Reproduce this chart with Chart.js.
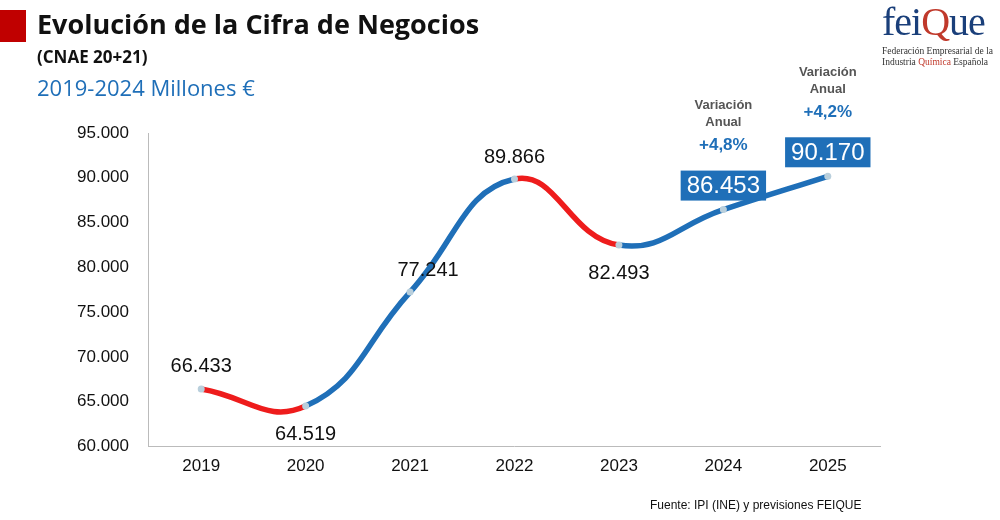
<!DOCTYPE html>
<html><head><meta charset="utf-8">
<script src="https://cdn.jsdelivr.net/npm/chart.js@4"></script>
<style>
body{margin:0;width:1000px;height:520px;background:#fff;position:relative;font-family:"Liberation Sans",Arial,sans-serif;overflow:hidden}
#wrap{position:absolute;left:0;top:0;width:1000px;height:520px}
.t{position:absolute;white-space:nowrap}
</style></head><body>
<div id="wrap"><canvas id="c"></canvas></div>
<div class="t" style="left:0;top:10px;width:26px;height:32px;background:#c00000"></div>
<div class="t" style="left:37px;top:5px;font:bold 27px 'Open Sans';color:#111">Evolución de la Cifra de Negocios</div>
<div class="t" style="left:37px;top:45px;font:bold 17px 'Open Sans';color:#111">(CNAE 20+21)</div>
<div class="t" style="left:37px;top:72px;font:22px 'Open Sans';color:#1f6fb8">2019-2024 Millones €</div>
<div class="t" style="left:882px;top:-2px;font:40px 'Liberation Serif';color:#1a3f7a;letter-spacing:-1px">fei<span style="color:#c0392b">Q</span>ue</div>
<div class="t" style="left:882px;top:46px;font:9.5px 'Liberation Serif';color:#333;line-height:11px">Federación Empresarial de la<br>Industria <span style="color:#c0392b">Química</span> Española</div>
<div class="t" style="left:650px;top:498px;font:12px 'Liberation Sans';color:#111">Fuente: IPI (INE) y previsiones FEIQUE</div>
<script>
const years = ['2019','2020','2021','2022','2023','2024','2025'];
const values = [66433, 64519, 77241, 89866, 82493, 86453, 90170];
const valueLabels = ['66.433','64.519','77.241','89.866','82.493','86.453','90.170'];
const variations = {5: '+4,8%', 6: '+4,2%'};
const RED = '#ee1c1c', BLUE = '#1f6fb8';

const labelPlugin = {
  id: 'labels',
  afterDatasetsDraw(chart) {
    const ctx = chart.ctx;
    const meta = chart.getDatasetMeta(0);
    ctx.save();
    ctx.textAlign = 'center';
    ctx.textBaseline = 'middle';
    meta.data.forEach((pt, i) => {
      const txt = valueLabels[i];
      if (i >= 5) {
        ctx.font = '24px "Liberation Sans"';
        const w = ctx.measureText(txt).width + 12;
        const cy = pt.y - 24;
        ctx.fillStyle = BLUE;
        ctx.fillRect(pt.x - w / 2, cy - 15, w, 30);
        ctx.fillStyle = '#fff';
        ctx.fillText(txt, pt.x, cy + 1);
        ctx.fillStyle = '#555';
        ctx.font = 'bold 13px "Liberation Sans"';
        ctx.fillText('Variación', pt.x, cy - 80);
        ctx.fillText('Anual', pt.x, cy - 63);
        ctx.fillStyle = BLUE;
        ctx.font = 'bold 17px "Liberation Sans"';
        ctx.fillText(variations[i], pt.x, cy - 40);
      } else {
        ctx.font = '20px "Liberation Sans"';
        ctx.fillStyle = '#111';
        const below = (i === 1 || i === 4);
        const dy = below ? 28 : -22;
        ctx.fillText(txt, pt.x + (i === 2 ? 18 : 0), pt.y + dy);
      }
    });
    ctx.restore();
  }
};

new Chart(document.getElementById('c'), {
  type: 'line',
  data: {
    labels: years,
    datasets: [{
      data: values,
      borderWidth: 5.5,
      tension: 0.45,
      pointRadius: 3.5,
      pointBackgroundColor: '#b9cfdc',
      pointBorderWidth: 0,
      segment: {
        borderColor: c => c.p1.parsed.y < c.p0.parsed.y ? RED : BLUE
      }
    }]
  },
  options: {
    responsive: true,
    maintainAspectRatio: false,
    animation: false,
    layout: { padding: { top: 133, left: 65, right: 120, bottom: 33 } },
    plugins: { legend: { display: false }, tooltip: { enabled: false } },
    scales: {
      x: {
        offset: true,
        grid: { display: false, drawTicks: false },
        border: { color: '#bbb' },
        ticks: { color: '#111', font: { size: 17, family: 'Liberation Sans' }, padding: 10 }
      },
      y: {
        min: 60000, max: 95000,
        grid: { display: false },
        border: { color: '#bbb' },
        ticks: {
          stepSize: 5000, color: '#111', padding: 12,
          font: { size: 17, family: 'Liberation Sans' },
          callback: v => v.toLocaleString('de-DE')
        }
      }
    }
  },
  plugins: [labelPlugin]
});
</script>
</body></html>
